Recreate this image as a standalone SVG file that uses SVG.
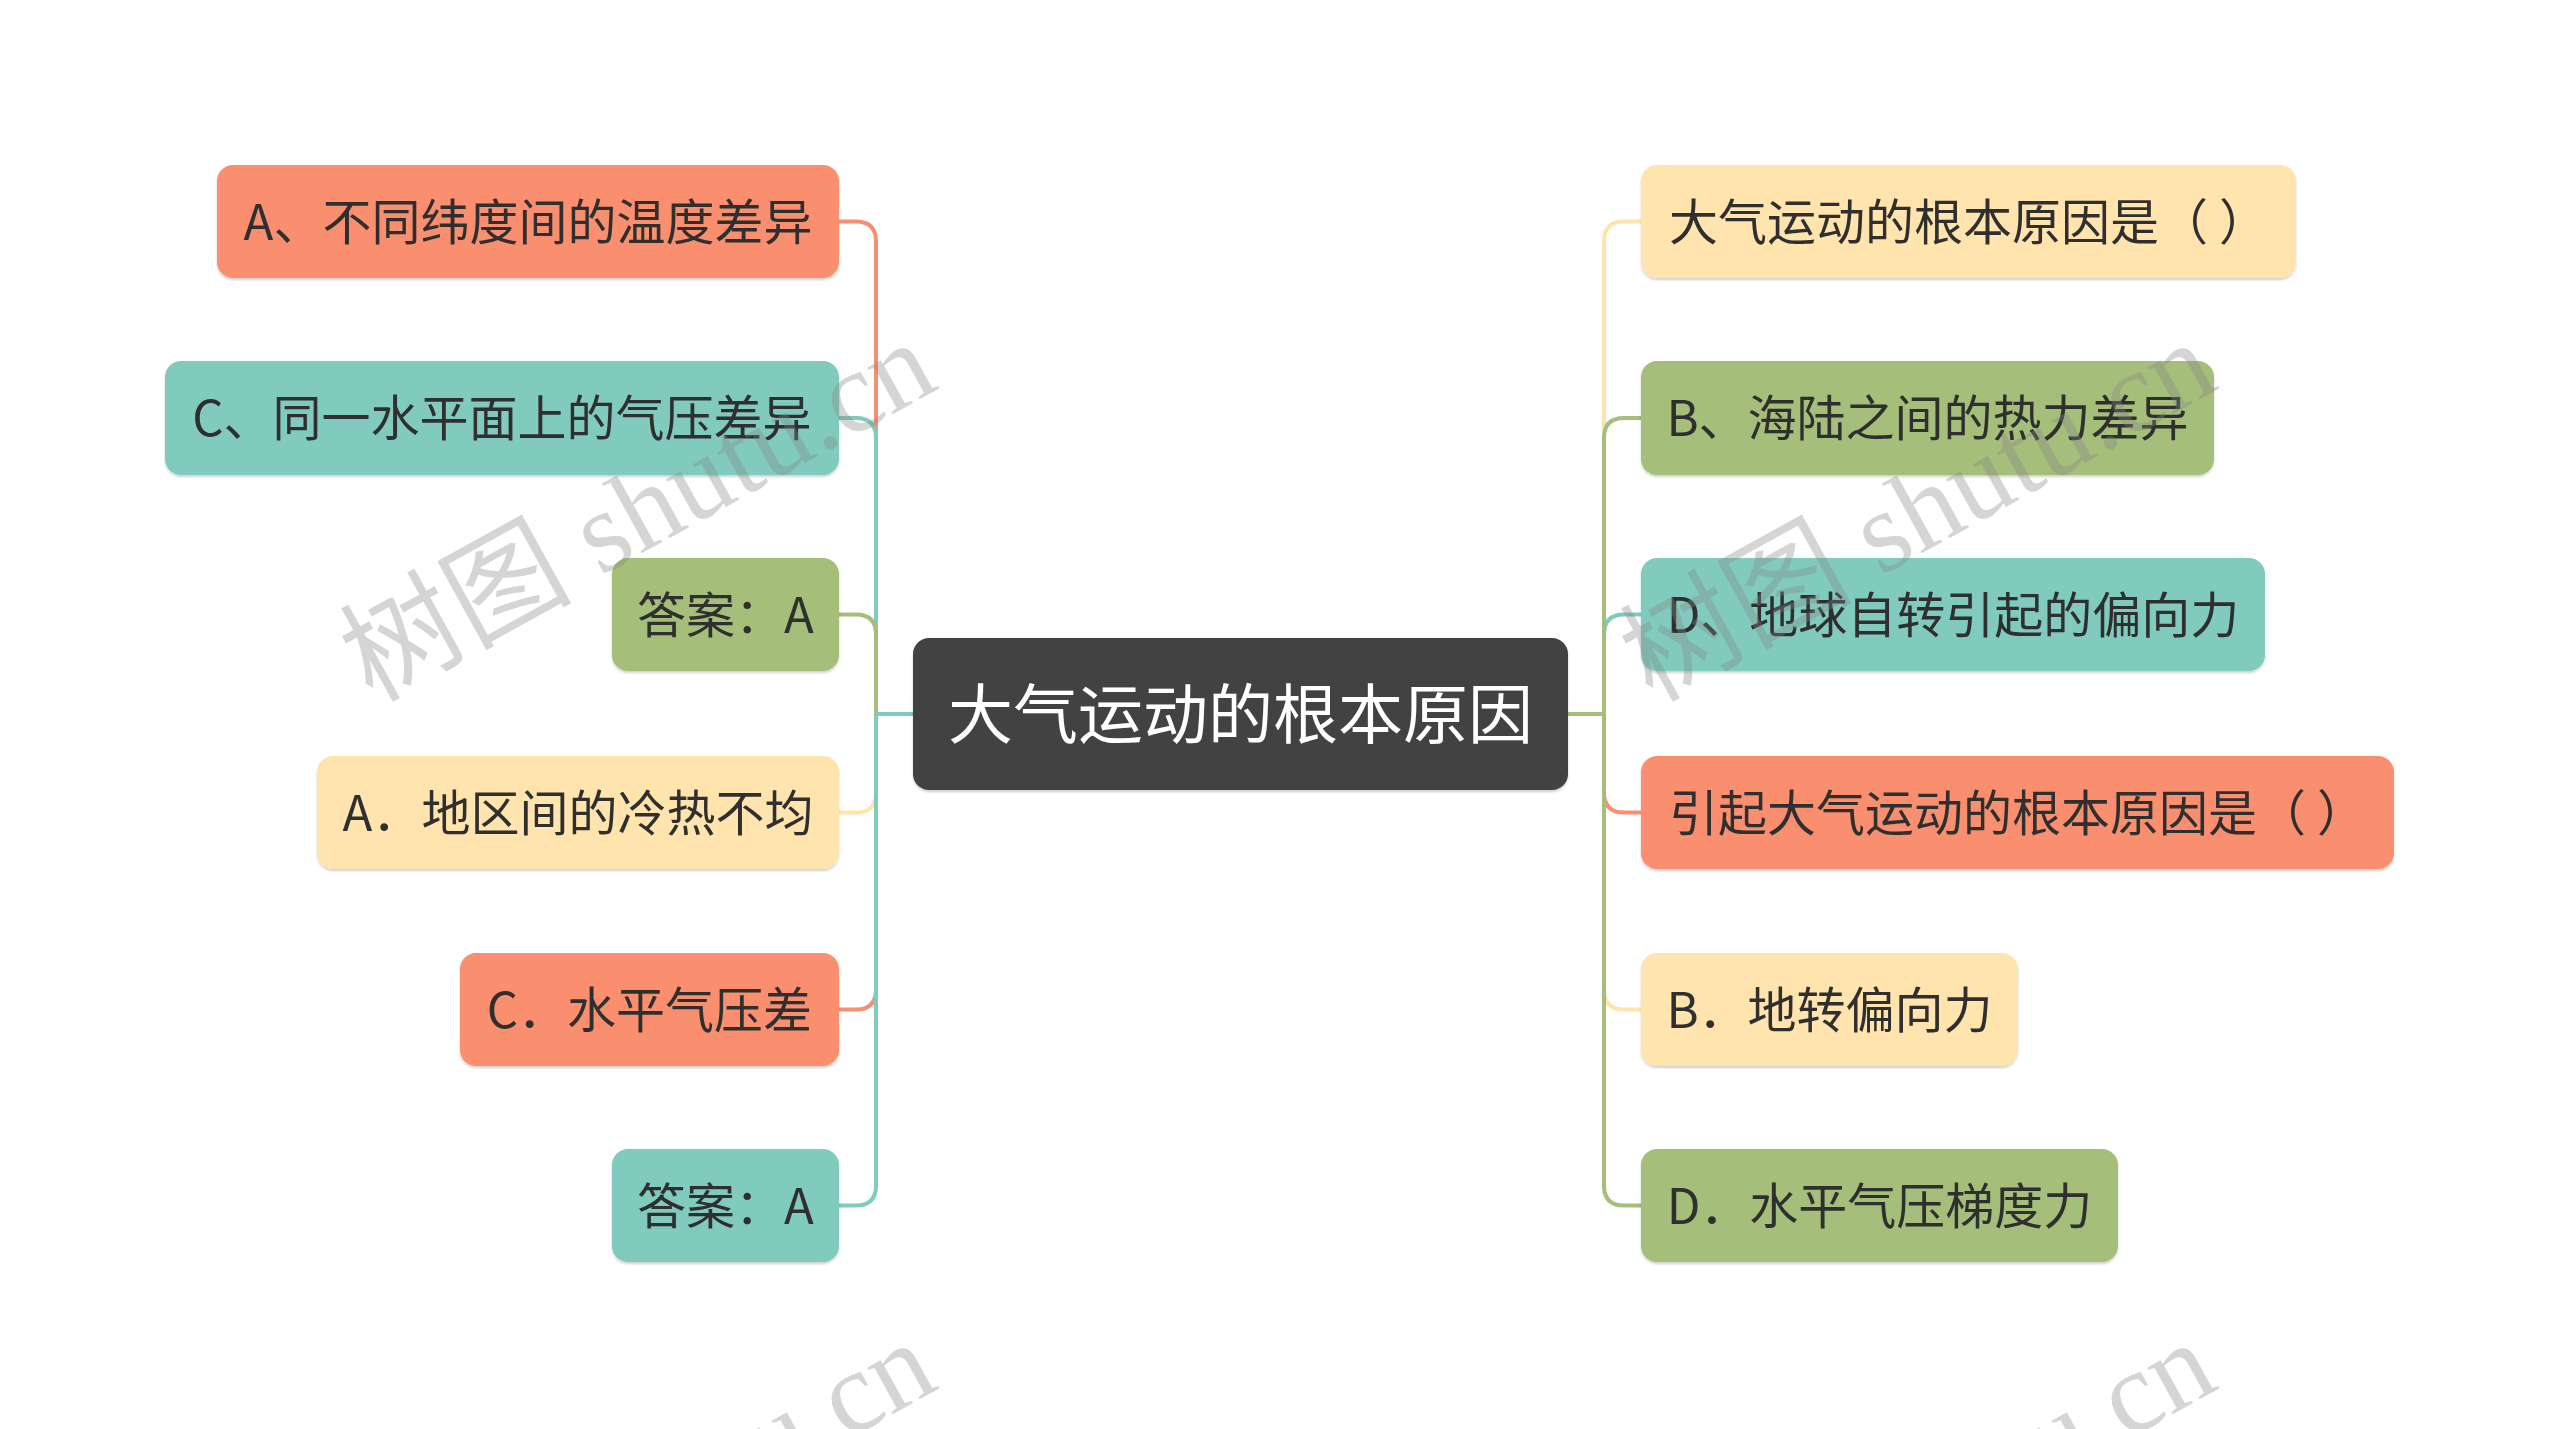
<svg xmlns="http://www.w3.org/2000/svg" width="2560" height="1429" viewBox="0 0 2560 1429">
<defs>
<style>
.n{stroke:none;filter:url(#sh)}
.o{fill:#FA8F6F}.t{fill:#80CBBE}.g{fill:#A5BE7A}.y{fill:#FFE4AE}
.lbl{font-family:"Noto Sans CJK SC","Noto Sans",sans-serif;font-size:49px;fill:#2F2F2F;text-anchor:middle}
.root{font-family:"Noto Sans CJK SC","Noto Sans",sans-serif;font-size:65px;fill:#FFFFFF;text-anchor:middle}
.c{fill:none;stroke-width:4}
.co{stroke:#FA8F6F}.ct{stroke:#80CBBE}.cg{stroke:#A5BE7A}.cy{stroke:#FFE4AE}
.wm{font-family:"Liberation Serif","Noto Sans CJK SC",serif;font-size:116px;fill:#888888;fill-opacity:0.35}
</style>
<filter id="sh" x="-5%" y="-10%" width="110%" height="130%">
<feDropShadow dx="0" dy="2" stdDeviation="1" flood-color="#000" flood-opacity="0.18"/>
</filter>
</defs>
<rect width="2560" height="1429" fill="#FFFFFF"/>
<g id="connectors">
<path class="c co" d="M913,714 H876 V241.5 Q876,221.5 856,221.5 H839"/>
<path class="c cy" d="M913,714 H876 V792.5 Q876,812.5 856,812.5 H839"/>
<path class="c co" d="M913,714 H876 V989.5 Q876,1009.5 856,1009.5 H839"/>
<path class="c ct" d="M913,714 H876 V438 Q876,418 856,418 H839"/>
<path class="c ct" d="M913,714 H876 V1185.5 Q876,1205.5 856,1205.5 H839"/>
<path class="c cg" d="M913,714 H876 V634.5 Q876,614.5 856,614.5 H839"/>
<path class="c ct" d="M913,714 H876"/>
<path class="c cy" d="M1568,714 H1604 V241.5 Q1604,221.5 1624,221.5 H1641"/>
<path class="c ct" d="M1568,714 H1604 V634.5 Q1604,614.5 1624,614.5 H1641"/>
<path class="c co" d="M1568,714 H1604 V792.5 Q1604,812.5 1624,812.5 H1641"/>
<path class="c cy" d="M1568,714 H1604 V989.5 Q1604,1009.5 1624,1009.5 H1641"/>
<path class="c cg" d="M1568,714 H1604 V438 Q1604,418 1624,418 H1641"/>
<path class="c cg" d="M1568,714 H1604 V1185.5 Q1604,1205.5 1624,1205.5 H1641"/>
</g>
<g id="root">
<rect x="913" y="638" width="655" height="152" rx="16" fill="#424242" filter="url(#sh)"/>
<text class="root" x="1240.5" y="738">大气运动的根本原因</text>
</g>
<g id="L1"><rect class="n o" x="217" y="165" width="622" height="113" rx="16"/><text class="lbl" x="528" y="240">A、不同纬度间的温度差异</text></g>
<g id="L2"><rect class="n t" x="165" y="361" width="674" height="114" rx="16"/><text class="lbl" x="502" y="436">C、同一水平面上的气压差异</text></g>
<g id="L3"><rect class="n g" x="612" y="558" width="227" height="113" rx="16"/><text class="lbl" x="725.5" y="633">答案：A</text></g>
<g id="L4"><rect class="n y" x="317" y="756" width="522" height="113" rx="16"/><text class="lbl" x="578" y="831">A．地区间的冷热不均</text></g>
<g id="L5"><rect class="n o" x="460" y="953" width="379" height="113" rx="16"/><text class="lbl" x="649.5" y="1028">C．水平气压差</text></g>
<g id="L6"><rect class="n t" x="612" y="1149" width="227" height="113" rx="16"/><text class="lbl" x="725.5" y="1224">答案：A</text></g>
<g id="R1"><rect class="n y" x="1641" y="165" width="655" height="113" rx="16"/><text class="lbl" x="1968.5" y="240">大气运动的根本原因是（ ）</text></g>
<g id="R2"><rect class="n g" x="1641" y="361" width="573" height="114" rx="16"/><text class="lbl" x="1927.5" y="436">B、海陆之间的热力差异</text></g>
<g id="R3"><rect class="n t" x="1641" y="558" width="624" height="113" rx="16"/><text class="lbl" x="1953" y="633">D、地球自转引起的偏向力</text></g>
<g id="R4"><rect class="n o" x="1641" y="756" width="753" height="113" rx="16"/><text class="lbl" x="2017.5" y="831">引起大气运动的根本原因是（ ）</text></g>
<g id="R5"><rect class="n y" x="1641" y="953" width="377" height="113" rx="16"/><text class="lbl" x="1829.5" y="1028">B．地转偏向力</text></g>
<g id="R6"><rect class="n g" x="1641" y="1149" width="477" height="113" rx="16"/><text class="lbl" x="1879.5" y="1224">D．水平气压梯度力</text></g>
<g id="watermark">
<text class="wm" x="372" y="703" transform="rotate(-29 372 703)">树图 shutu.cn</text>
<text class="wm" x="1652" y="703" transform="rotate(-29 1652 703)">树图 shutu.cn</text>
<text class="wm" x="372" y="1703" transform="rotate(-29 372 1703)">树图 shutu.cn</text>
<text class="wm" x="1652" y="1703" transform="rotate(-29 1652 1703)">树图 shutu.cn</text>
</g>
</svg>
